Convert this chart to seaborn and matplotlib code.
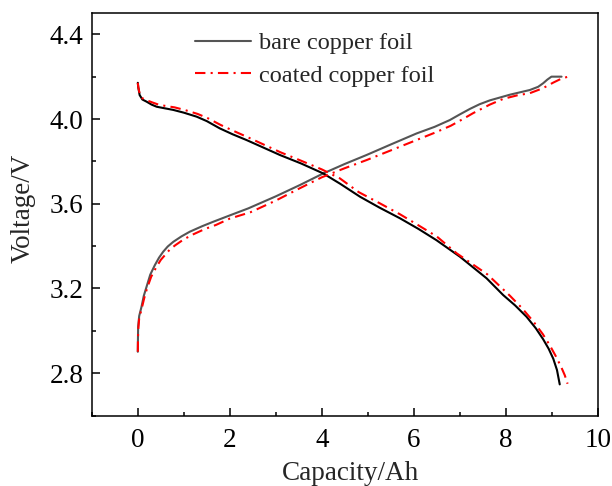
import matplotlib
matplotlib.use("Agg")
import matplotlib.pyplot as plt
from matplotlib.ticker import MultipleLocator
import pandas as pd
import seaborn as sns

# Bare copper foil, discharge branch (capacity in Ah, voltage in V)
bare_dis_cap = [0.0, 0.01, 0.04, 0.10, 0.19, 0.30, 0.41, 0.60, 0.77, 1.00, 1.28, 1.50, 1.78,
                2.06, 2.36, 2.70, 3.09, 3.55, 4.03, 4.40, 4.83, 5.25, 5.70, 6.10, 6.49, 7.00,
                7.58, 7.94, 8.20, 8.45, 8.65, 8.81, 8.93, 9.03, 9.11, 9.17]
bare_dis_v = [4.171, 4.150, 4.113, 4.092, 4.082, 4.068, 4.058, 4.050, 4.043, 4.030, 4.011, 3.990, 3.956,
              3.928, 3.901, 3.868, 3.830, 3.790, 3.743, 3.694, 3.633, 3.582, 3.531, 3.481, 3.428, 3.350,
              3.248, 3.169, 3.120, 3.066, 3.012, 2.960, 2.915, 2.868, 2.815, 2.747]

# Coated copper foil, discharge branch
coat_dis_cap = [0.0, 0.01, 0.04, 0.10, 0.20, 0.32, 0.45, 0.62, 0.80, 1.03, 1.30, 1.52, 1.80,
                2.10, 2.40, 2.75, 3.10, 3.55, 4.00, 4.39, 4.80, 5.26, 5.70, 6.10, 6.50, 6.93,
                7.60, 8.09, 8.35, 8.60, 8.80, 8.95, 9.08, 9.20, 9.28, 9.34]
coat_dis_v = [4.171, 4.150, 4.120, 4.098, 4.088, 4.078, 4.068, 4.061, 4.055, 4.042, 4.024, 4.004, 3.972,
              3.942, 3.913, 3.878, 3.843, 3.803, 3.762, 3.720, 3.655, 3.602, 3.550, 3.498, 3.445, 3.366,
              3.266, 3.165, 3.107, 3.043, 2.985, 2.933, 2.882, 2.830, 2.790, 2.750]

# Bare copper foil, charge branch
bare_chg_cap = [0.0, 0.003, 0.007, 0.03, 0.08, 0.13, 0.19, 0.27, 0.37, 0.46, 0.55, 0.65, 0.77,
                0.95, 1.13, 1.40, 1.64, 2.00, 2.40, 3.00, 3.52, 4.03, 4.50, 4.97, 5.50, 6.06,
                6.45, 6.78, 7.00, 7.22, 7.43, 7.65, 8.09, 8.52, 8.70, 8.81, 8.90, 8.99, 9.21]
bare_chg_v = [2.901, 2.960, 3.019, 3.070, 3.113, 3.165, 3.208, 3.265, 3.310, 3.345, 3.373, 3.398, 3.420,
              3.446, 3.468, 3.494, 3.515, 3.545, 3.578, 3.635, 3.688, 3.743, 3.788, 3.830, 3.880, 3.932,
              3.963, 3.995, 4.022, 4.048, 4.070, 4.088, 4.115, 4.137, 4.152, 4.169, 4.186, 4.200, 4.200]

# Coated copper foil, charge branch
coat_chg_cap = [0.0, 0.003, 0.007, 0.03, 0.09, 0.14, 0.20, 0.29, 0.40, 0.50, 0.60, 0.70, 0.82,
                1.00, 1.20, 1.45, 1.70, 2.00, 2.45, 3.00, 3.52, 4.00, 4.50, 4.97, 5.50, 6.06,
                6.45, 6.80, 7.05, 7.29, 7.65, 7.94, 8.25, 8.52, 8.80, 9.03, 9.20, 9.35]
coat_chg_v = [2.901, 2.950, 3.000, 3.060, 3.110, 3.155, 3.200, 3.255, 3.300, 3.335, 3.360, 3.385, 3.405,
              3.432, 3.455, 3.480, 3.500, 3.530, 3.560, 3.615, 3.673, 3.725, 3.768, 3.806, 3.852, 3.901,
              3.935, 3.968, 3.998, 4.028, 4.068, 4.095, 4.112, 4.122, 4.145, 4.172, 4.190, 4.200]

x_ticks = [0, 2, 4, 6, 8, 10]
y_ticks = [2.8, 3.2, 3.6, 4.0, 4.4]

sns.set_style("ticks")
plt.rcParams["font.family"] = ["Liberation Serif", "DejaVu Serif"]

fig = plt.figure(figsize=(6.12, 4.86), dpi=100)
ax = fig.add_axes([0.150, 0.145, 0.827, 0.828])

def frame(cap, v):
    return pd.DataFrame({"Capacity": cap, "Voltage": v})

dashdot = (0, (5, 2.5, 1, 2.5))

sns.lineplot(data=frame(bare_chg_cap, bare_chg_v), x="Capacity", y="Voltage", sort=False,
             color="#555555", lw=1.5, ax=ax, label="bare copper foil")
sns.lineplot(data=frame(bare_dis_cap, bare_dis_v), x="Capacity", y="Voltage", sort=False,
             color="black", lw=1.5, ax=ax)
sns.lineplot(data=frame(coat_chg_cap, coat_chg_v), x="Capacity", y="Voltage", sort=False,
             color="#ff0000", lw=1.5, linestyle=dashdot, ax=ax, label="coated copper foil")
sns.lineplot(data=frame(coat_dis_cap, coat_dis_v), x="Capacity", y="Voltage", sort=False,
             color="#ff0000", lw=1.5, linestyle=dashdot, ax=ax)

ax.set_xlim(-1, 10)
ax.set_ylim(2.6, 4.5)
ax.set_xticks(x_ticks)
ax.set_yticks(y_ticks)
ax.set_xticklabels([str(t) for t in x_ticks])
ax.set_yticklabels([f"{t:.1f}" for t in y_ticks])
ax.xaxis.set_minor_locator(MultipleLocator(1))
ax.yaxis.set_minor_locator(MultipleLocator(0.2))
ax.tick_params(which="both", direction="in", top=False, right=False, width=1.1,
               labelsize=19.5, colors="black")
ax.tick_params(axis="x", pad=9)
ax.tick_params(axis="y", pad=6)
ax.tick_params(which="major", length=6)
ax.tick_params(which="minor", length=3)
for s in ax.spines.values():
    s.set_linewidth(1.1)
    s.set_color("black")

ax.set_xlabel("Capacity/Ah", fontsize=19.5, labelpad=6)
ax.set_ylabel("Voltage/V", fontsize=19.5, labelpad=10)
ax.xaxis.label.set_x(0.512)
ax.yaxis.label.set_y(0.516)

ax.legend(loc="upper left", bbox_to_anchor=(0.204, 0.952), frameon=False, fontsize=17.5,
          handlelength=2.3, handletextpad=0.33, labelspacing=0.42, borderpad=0, borderaxespad=0)

fig.savefig("out.png", dpi=100, facecolor="white")
